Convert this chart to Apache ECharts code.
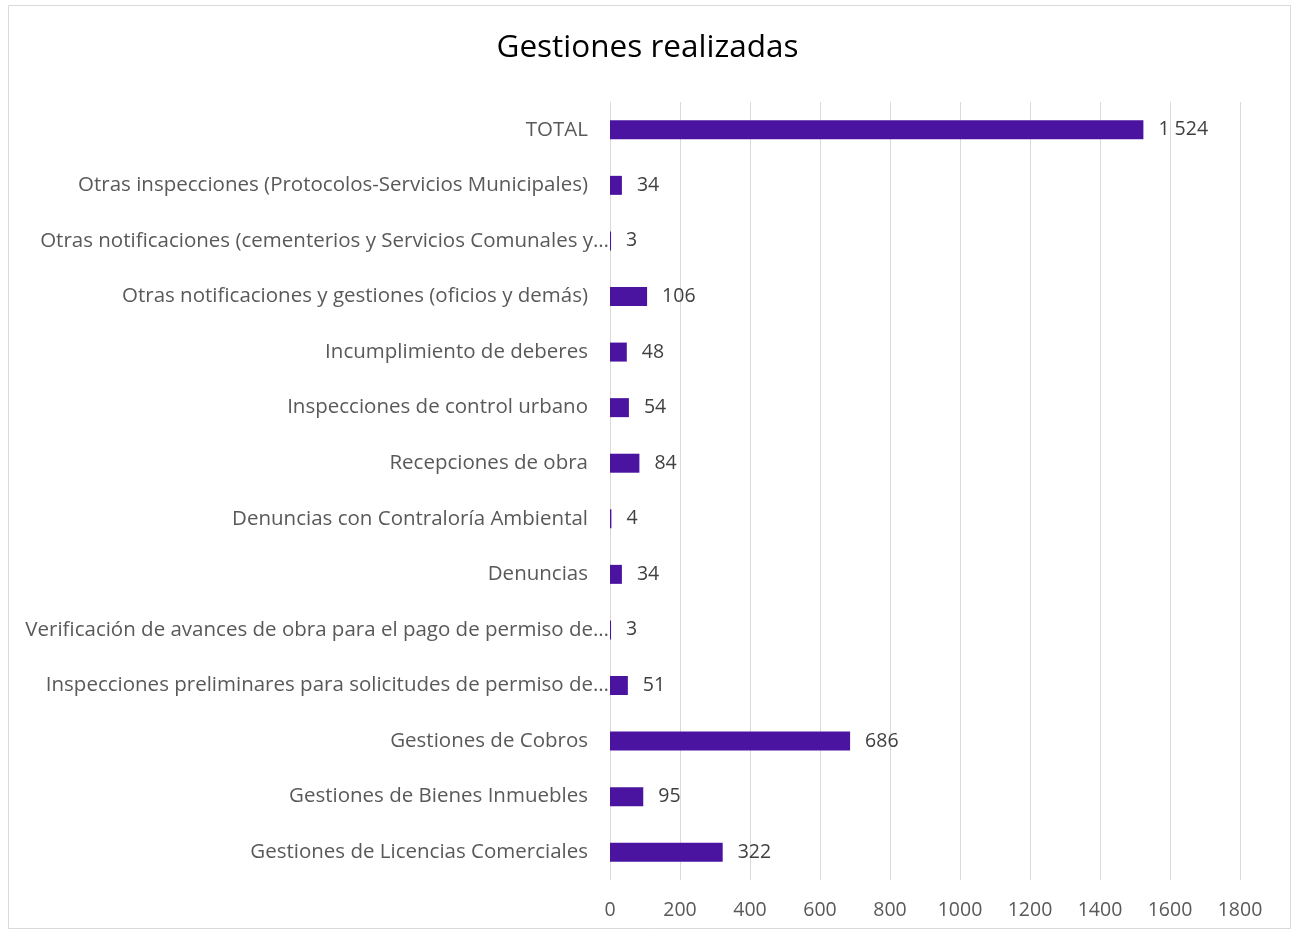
<!DOCTYPE html>
<html><head><meta charset="utf-8">
<script src="https://cdn.jsdelivr.net/npm/echarts@6/dist/echarts.min.js"></script>
<style>html,body{margin:0;padding:0;background:#fff}#c{width:1295px;height:933px}</style>
</head><body><div id="c"></div>
<script>
const categories = [
  "TOTAL",
  "Otras inspecciones (Protocolos-Servicios Municipales)",
  "Otras notificaciones (cementerios y Servicios Comunales y…",
  "Otras notificaciones y gestiones (oficios y demás)",
  "Incumplimiento de deberes",
  "Inspecciones de control urbano",
  "Recepciones de obra",
  "Denuncias con Contraloría Ambiental",
  "Denuncias",
  "Verificación de avances de obra para el pago de permiso de…",
  "Inspecciones preliminares para solicitudes de permiso de…",
  "Gestiones de Cobros",
  "Gestiones de Bienes Inmuebles",
  "Gestiones de Licencias Comerciales"
];
const values = [1524, 34, 3, 106, 48, 54, 84, 4, 34, 3, 51, 686, 95, 322];
const xTicks = [0, 200, 400, 600, 800, 1000, 1200, 1400, 1600, 1800];

const chart = echarts.init(document.getElementById('c'));
const fmt = v => String(v).replace(/\B(?=(\d{3})+(?!\d))/g, ' ');
const FF = 'Open Sans';
const catData = categories.map(c => c.endsWith('…')
  ? {value: c, textStyle: {padding: [0, -21, 0, 0]}} : c);
chart.setOption({
  animation: false,
  backgroundColor: '#fff',
  title: {text: 'Gestiones realizadas', left: 'center', top: 27,
    textStyle: {fontFamily: FF, fontSize: 31.5, fontWeight: 'normal', color: '#000'}},
  graphic: [{type: 'rect', shape: {x: 8.5, y: 5.5, width: 1282, height: 923},
    style: {fill: 'none', stroke: '#d9d9d9', lineWidth: 1}, silent: true}],
  grid: {left: 610, right: 55, top: 102, bottom: 53, containLabel: false},
  xAxis: {type: 'value', min: xTicks[0], max: xTicks[xTicks.length-1], interval: 200,
    axisLine: {show: false}, axisTick: {show: false},
    axisLabel: {color: '#595959', fontFamily: FF, fontSize: 19.5, margin: 20,
      formatter: v => String(v)},
    splitLine: {lineStyle: {color: '#d9d9d9', width: 1}}},
  yAxis: {type: 'category', data: catData, inverse: true,
    axisLine: {show: false}, axisTick: {show: false},
    axisLabel: {color: '#595959', fontFamily: FF, fontSize: 20.5, margin: 22}},
  series: [{type: 'bar', data: values, barWidth: 19,
    itemStyle: {color: '#4a14a0'},
    label: {show: true, position: 'right', distance: 15, color: '#404040',
      fontFamily: FF, fontSize: 19.5, formatter: p => fmt(p.value)}}]
});
</script></body></html>
